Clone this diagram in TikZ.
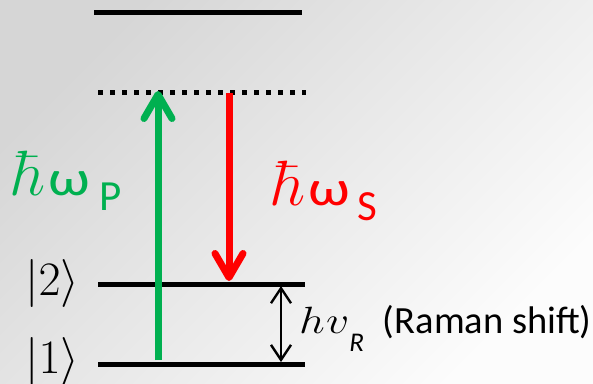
\RequirePackage{fix-cm}
\documentclass[tikz,border=0pt]{standalone}
\usepackage{fontspec}
\usepackage{graphicx}
\newfontfamily\calib{Carlito}
\usetikzlibrary{arrows.meta}
\definecolor{pgreen}{HTML}{00B050}
\definecolor{sred}{HTML}{FF0000}
\definecolor{bgTL}{HTML}{D6D6D6}
\definecolor{bgBR}{HTML}{FCFCFC}
\newcommand{\hbomega}[2]{\fontsize{64bp}{70bp}\selectfont$\hbar$\kern3bp\calib\fontsize{50bp}{60bp}\selectfont\scalebox{1.2}[1]{ω}\kern#2\raisebox{-15bp}{\fontsize{43bp}{50bp}\selectfont #1}}
\tikzset{
  level/.style={line width=5bp},
  bigarrow/.style={line width=7bp,-{Straight Barb[length=24bp,width=28bp,round]}},
  shiftarrow/.style={line width=2.4bp,{Straight Barb[length=15bp,width=20bp]}-{Straight Barb[length=15bp,width=20bp]}},
  lbl/.style={inner sep=0pt,anchor=base west},
}
\begin{document}
\begin{tikzpicture}[x=1bp,y=-1bp]
\useasboundingbox (0,0) rectangle (593,383);
\shade[top color=bgTL,bottom color=bgBR,shading angle=45] (0,0) rectangle (593,383);
% levels
\coordinate (topL) at (94,12);   \coordinate (topR) at (302,12);
\coordinate (virL) at (98,92);   \coordinate (virR) at (306,92);
\coordinate (twoL) at (98,284);  \coordinate (twoR) at (305,284);
\coordinate (oneL) at (98,364);  \coordinate (oneR) at (305,364);
\draw[level] (topL) -- (topR);
\draw[level,dash pattern=on 5bp off 7bp] (virL) -- (virR);
\draw[level] (twoL) -- (twoR);
\draw[level] (oneL) -- (oneR);
% arrows
\coordinate (gS) at (158,360); \coordinate (gE) at (158,91);
\coordinate (rS) at (229,93);  \coordinate (rE) at (229,281);
\draw[bigarrow,pgreen] (gS) -- (gE);
\draw[bigarrow,sred] (rS) -- (rE);
\coordinate (dT) at (281,286); \coordinate (dB) at (281,362);
\draw[shiftarrow] (dT) -- (dB);
% labels
\node[lbl] (l2) at (25,295) {\fontsize{48bp}{54bp}\selectfont$|2\rangle$};
\node[lbl] (l1) at (25,373) {\fontsize{48bp}{54bp}\selectfont$|1\rangle$};
\node[lbl,text=pgreen] (wp) at (12,195) {\hbomega{P}{9bp}};
\node[lbl,text=sred] (ws) at (272,205) {\hbomega{S}{7bp}};
\node[lbl] (raman) at (299,333) {\fontsize{38bp}{44bp}\selectfont\scalebox{1.2}[1]{$h$\kern1bp$v$}\raisebox{-18bp}{\calib\itshape\fontsize{27bp}{30bp}\selectfont R}\kern19bp\calib\fontsize{38.5bp}{44bp}\selectfont(Raman shift)};
\end{tikzpicture}
\end{document}
